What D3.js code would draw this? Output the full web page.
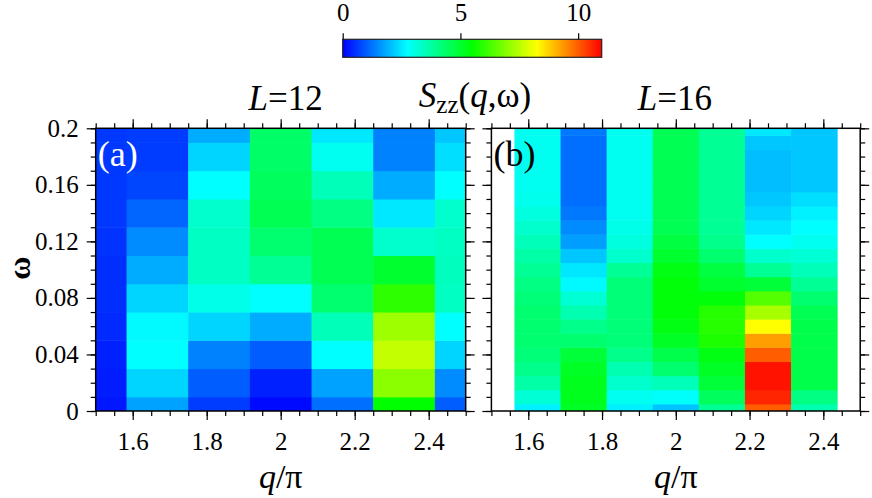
<!DOCTYPE html>
<html>
<head>
<meta charset="utf-8">
<script src="https://cdn.jsdelivr.net/npm/d3@7"></script>
<style>
  body { margin: 0; background: white; }
</style>
</head>
<body>
<div id="chart"></div>
<script>
// q/pi columns and omega rows of each panel
var qA = [1.5, 1.6667, 1.8333, 2.0, 2.1667, 2.3333, 2.5];
var wA = [0, 0.02, 0.04, 0.06, 0.08, 0.10, 0.12, 0.14, 0.16, 0.18, 0.20];
var qB = [1.625, 1.75, 1.875, 2.0, 2.125, 2.25, 2.375];
var wB = [0, 0.01, 0.02, 0.03, 0.04, 0.05, 0.06, 0.07, 0.08, 0.09, 0.10,
          0.11, 0.12, 0.13, 0.14, 0.15, 0.16, 0.17, 0.18, 0.19, 0.20];

// S_zz values, one row per omega (from 0 up), one entry per q column
var sA = [
  [0.25, 1.75, 0.65, 0.10, 1.20, 5.5, 1.00],
  [0.30, 2.30, 1.00, 0.35, 1.75, 7.0, 1.50],
  [0.35, 2.75, 1.40, 1.00, 2.75, 7.6, 2.30],
  [0.45, 2.70, 2.30, 1.85, 3.50, 7.2, 2.75],
  [0.50, 2.30, 3.00, 2.75, 4.30, 6.0, 3.40],
  [0.50, 1.85, 3.40, 3.90, 4.60, 5.0, 3.45],
  [0.55, 1.50, 3.40, 4.30, 4.60, 3.3, 3.40],
  [0.60, 1.10, 3.30, 4.60, 4.10, 2.5, 3.30],
  [0.60, 0.75, 2.75, 4.50, 3.50, 1.85, 2.75],
  [0.60, 0.65, 2.30, 4.40, 2.90, 1.40, 2.40],
  [0.60, 0.65, 1.85, 4.40, 2.50, 1.40, 2.15]
];
var sB = [
  [2.6, 5.1, 2.6, 2.1, 3.9, 10.0, 3.6],
  [3.2, 5.2, 2.9, 2.8, 4.5, 10.6, 4.1],
  [3.7, 5.2, 3.3, 3.5, 4.9, 10.8, 4.7],
  [4.0, 5.1, 3.6, 4.3, 5.1, 10.8, 4.7],
  [4.2, 4.9, 4.0, 4.7, 5.3, 10.0, 4.7],
  [4.3, 4.3, 4.2, 5.1, 5.8, 9.3, 4.7],
  [4.3, 4.0, 4.2, 5.3, 5.9, 8.25, 4.7],
  [4.3, 3.6, 4.2, 5.4, 5.9, 7.3, 4.6],
  [4.2, 3.2, 4.2, 5.4, 5.4, 6.4, 4.3],
  [4.1, 2.7, 4.2, 5.4, 5.0, 4.9, 3.9],
  [3.9, 2.5, 3.9, 5.3, 4.8, 3.9, 3.5],
  [3.7, 2.15, 3.3, 5.0, 4.3, 3.3, 3.2],
  [3.5, 1.7, 3.1, 4.8, 4.0, 2.75, 2.9],
  [3.3, 1.5, 3.0, 4.6, 3.9, 2.5, 2.75],
  [3.1, 1.3, 2.9, 4.6, 3.9, 2.3, 2.6],
  [2.95, 1.2, 2.9, 4.6, 3.9, 2.15, 2.4],
  [2.9, 1.2, 2.9, 4.6, 3.9, 2.05, 2.15],
  [2.9, 1.2, 2.9, 4.6, 3.9, 2.05, 2.15],
  [2.9, 1.2, 2.9, 4.6, 3.9, 2.05, 2.15],
  [2.9, 1.2, 2.9, 4.6, 3.9, 2.15, 2.15],
  [2.9, 1.3, 2.9, 4.6, 3.9, 2.5, 2.15]
];

var xTicks = [1.6, 1.8, 2, 2.2, 2.4];
var yTicks = [0, 0.04, 0.08, 0.12, 0.16, 0.2];
var cbTicks = [0, 5, 10];

var width = 872, height = 498;
var svg = d3.select("#chart").append("svg")
  .attr("width", width).attr("height", height);

var color = d3.scaleLinear()
  .domain([0, 2.75, 5.5, 8.25, 11])
  .range(["#0000ff", "#00ffff", "#00ff00", "#ffff00", "#ff0000"])
  .clamp(true);

var y = d3.scaleLinear().domain([0, 0.2]).range([411, 128.3]);

function panel(x0, x1, qs, ws, vals, id, label, labelCol, title, titleShift, showY) {
  var x = d3.scaleLinear().domain([1.5, 2.5]).range([x0, x1]);
  var g = svg.append("g");

  svg.append("clipPath").attr("id", id)
    .append("rect").attr("x", x0).attr("y", y(0.2))
    .attr("width", x1 - x0).attr("height", y(0) - y(0.2));

  var dq = qs[1] - qs[0], dw = ws[1] - ws[0];
  var cells = [];
  vals.forEach(function(row, i) {
    row.forEach(function(v, j) { cells.push({q: qs[j], w: ws[i], v: v}); });
  });

  g.append("g").attr("clip-path", "url(#" + id + ")")
    .selectAll("rect").data(cells).enter().append("rect")
    .attr("x", function(d) { return x(d.q - dq / 2); })
    .attr("width", function(d) { return x(d.q + dq / 2) - x(d.q - dq / 2) + 0.5; })
    .attr("y", function(d) { return y(d.w + dw / 2); })
    .attr("height", function(d) { return y(d.w - dw / 2) - y(d.w + dw / 2) + 0.5; })
    .attr("fill", function(d) { return color(d.v); });

  var minX = d3.range(30, 51).map(function(k) { return k / 20; });
  var minY = d3.range(0, 21).map(function(k) { return k / 100; });

  function addAxis(axis, tx, ty, vals, size, labels) {
    var a = g.append("g").attr("transform", "translate(" + tx + "," + ty + ")")
      .call(axis.tickValues(vals).tickSize(size).tickSizeOuter(0)
        .tickFormat(labels ? function(d) { return d; } : ""));
    a.select(".domain").remove();
    a.selectAll("line").attr("stroke-width", 1.2);
    return a;
  }

  addAxis(d3.axisBottom(x), 0, y(0), minX, 5, false);
  addAxis(d3.axisTop(x), 0, y(0.2), minX, 5, false);
  addAxis(d3.axisLeft(y), x0, 0, minY, 5, false);
  addAxis(d3.axisRight(y), x1, 0, minY, 5, false);

  var bx = addAxis(d3.axisBottom(x).tickPadding(12), 0, y(0), xTicks, 9, true);
  bx.selectAll("text").attr("font-size", 25).attr("fill", "black");
  addAxis(d3.axisTop(x), 0, y(0.2), xTicks, 9, false);
  var ly = addAxis(d3.axisLeft(y).tickPadding(8), x0, 0, yTicks, 9, showY);
  ly.selectAll("text").attr("font-size", 25).attr("fill", "black");
  addAxis(d3.axisRight(y), x1, 0, yTicks, 9, false);

  g.append("rect").attr("x", x0).attr("y", y(0.2))
    .attr("width", x1 - x0).attr("height", y(0) - y(0.2))
    .attr("fill", "none").attr("stroke", "black").attr("stroke-width", 1.5);

  g.append("text").attr("x", x0 + 2).attr("y", 166)
    .attr("font-size", 36).attr("fill", labelCol).text(label);

  var t = g.append("text").attr("x", (x0 + x1) / 2 + titleShift).attr("y", 110)
    .attr("text-anchor", "middle").attr("font-size", 35);
  t.append("tspan").attr("font-style", "italic").text("L");
  t.append("tspan").text("=" + title);

  var xl = g.append("text").attr("x", (x0 + x1) / 2).attr("y", 488)
    .attr("text-anchor", "middle").attr("font-size", 34);
  xl.append("tspan").attr("font-style", "italic").text("q");
  xl.append("tspan").text("/π");
}

panel(95.7, 465.7, qA, wA, sA, "clipA", "(a)", "white", "12", 5, true);
panel(491.4, 860.2, qB, wB, sB, "clipB", "(b)", "black", "16", -1, false);

// omega label
svg.append("text").attr("transform", "translate(30,268) rotate(-90)")
  .attr("text-anchor", "middle").attr("font-size", 32).attr("font-weight", "bold")
  .text("ω");

// S_zz title
var st = svg.append("text").attr("x", 475).attr("y", 107)
  .attr("text-anchor", "middle").attr("font-size", 35);
st.append("tspan").attr("font-style", "italic").text("S");
st.append("tspan").attr("font-size", 25).attr("dy", 6).text("zz");
st.append("tspan").attr("dy", -6).text("(");
st.append("tspan").attr("font-style", "italic").text("q");
st.append("tspan").text(",ω)");

// colour bar
var cb = d3.scaleLinear().domain([0, 11]).range([342.7, 601.7]);
var grad = svg.append("defs").append("linearGradient").attr("id", "cbgrad");
color.domain().forEach(function(d) {
  grad.append("stop").attr("offset", (d / 11 * 100) + "%").attr("stop-color", color(d));
});
svg.append("rect").attr("x", cb(0)).attr("y", 39.3)
  .attr("width", cb(11) - cb(0)).attr("height", 18)
  .attr("fill", "url(#cbgrad)").attr("stroke", "#222").attr("stroke-width", 1.2);
var cax = svg.append("g").attr("transform", "translate(0,39.3)")
  .call(d3.axisTop(cb).tickValues(cbTicks).tickSize(6).tickSizeOuter(0).tickPadding(12));
cax.select(".domain").remove();
cax.selectAll("line").attr("stroke-width", 1.2);
cax.selectAll("text").attr("font-size", 25).attr("fill", "black");

// every text in the serif face
svg.selectAll("text").style("font-family", "'Liberation Serif', monospace");
</script>
</body>
</html>
